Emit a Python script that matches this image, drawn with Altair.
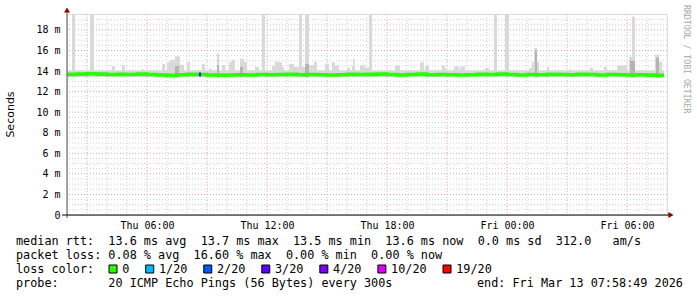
import altair as alt
import pandas as pd

# ---------------- data ----------------
# time = hours since Thu 00:00 (Thu 12 Mar 2026), values in milliseconds

# smoke (ping spread) segments: start, end, top; all start at the floor
smoke_start = [2.05, 2.25, 3.15, 4.25, 4.75, 5.75, 6.75, 7.00, 7.15, 7.40, 7.65, 8.00, 8.35, 8.75,
               9.10, 9.50, 9.75, 10.10, 10.25, 10.65, 10.85, 11.10, 11.40, 11.75, 12.25, 12.40,
               12.60, 12.75, 13.10, 13.35, 13.60, 13.75, 13.90, 14.10, 14.35, 14.90, 15.25, 15.40,
               16.00, 16.25, 16.30, 16.65, 16.90, 17.10, 18.40, 19.40, 19.65, 19.90, 20.75, 20.90,
               21.35, 21.65, 22.90, 23.35, 23.90, 25.10, 25.25, 25.35, 26.00, 27.10, 28.15, 28.85,
               29.00, 29.50, 30.10, 30.25, 31.40, 31.60]
smoke_end = [31.85, 2.40, 3.35, 4.40, 4.90, 5.85, 6.90, 7.15, 7.40, 7.65, 7.85, 8.15, 8.45, 8.90,
             9.25, 9.60, 9.90, 10.25, 10.40, 10.85, 11.00, 11.25, 11.60, 11.90, 12.40, 12.60,
             12.75, 12.85, 13.35, 13.60, 13.75, 13.90, 14.10, 14.35, 14.50, 15.10, 15.40, 15.60,
             16.15, 16.40, 16.38, 16.90, 17.10, 17.25, 18.65, 19.60, 19.85, 20.10, 20.90, 21.00,
             21.60, 21.90, 23.10, 23.50, 24.10, 25.25, 25.60, 25.50, 26.10, 27.25, 28.30, 29.00,
             29.15, 30.00, 30.25, 30.40, 31.60, 31.75]
smoke_top = [14.08, 19.55, 19.55, 14.47, 14.56, 14.17, 14.69, 14.85, 15.10, 15.44, 14.60, 14.90, 14.10, 14.70,
             14.25, 15.70, 14.60, 14.90, 15.10, 15.20, 14.90, 14.10, 14.40, 19.55, 14.50, 14.90,
             14.85, 14.40, 14.70, 14.40, 19.55, 14.40, 19.55, 14.60, 14.90, 14.70, 14.85, 14.55,
             14.30, 14.50, 15.20, 14.55, 14.35, 19.55, 14.55, 14.10, 14.85, 14.50, 14.55, 14.20,
             14.45, 14.45, 14.30, 19.55, 19.55, 14.30, 14.90, 16.25, 14.40, 14.15, 14.30, 14.40,
             14.10, 14.55, 15.40, 19.30, 15.60, 14.90]
smoke_floor = [13.40]

# darker core of the smoke
core_start = [7.40, 9.50, 10.65, 13.90, 25.40, 30.15, 31.45]
core_end = [7.60, 9.60, 10.80, 14.10, 25.50, 30.40, 31.60]
core_top = [14.50, 14.60, 14.40, 14.70, 16.00, 15.00, 15.30]

# median rtt, one value per 30 minutes starting Thu 02:00
median_time = [2.0, 2.5, 3.0, 3.5, 4.0, 4.5, 5.0, 5.5, 6.0, 6.5, 7.0, 7.5, 8.0, 8.5, 9.0, 9.5,
               10.0, 10.5, 11.0, 11.5, 12.0, 12.5, 13.0, 13.5, 14.0, 14.5, 15.0, 15.5, 16.0, 16.5,
               17.0, 17.5, 18.0, 18.5, 19.0, 19.5, 20.0, 20.5, 21.0, 21.5, 22.0, 22.5, 23.0, 23.5,
               24.0, 24.5, 25.0, 25.5, 26.0, 26.5, 27.0, 27.5, 28.0, 28.5, 29.0, 29.5, 30.0, 30.5,
               31.0, 31.5, 31.85]
median_ms = [13.68, 13.70, 13.74, 13.70, 13.66, 13.68, 13.66, 13.70, 13.66, 13.62, 13.58, 13.64,
             13.68, 13.66, 13.62, 13.60, 13.62, 13.64, 13.62, 13.66, 13.64, 13.66, 13.68, 13.64,
             13.66, 13.64, 13.62, 13.64, 13.68, 13.66, 13.68, 13.70, 13.66, 13.62, 13.66, 13.70,
             13.64, 13.66, 13.64, 13.62, 13.64, 13.68, 13.66, 13.70, 13.66, 13.62, 13.66, 13.64,
             13.68, 13.66, 13.64, 13.68, 13.66, 13.62, 13.66, 13.64, 13.62, 13.64, 13.60, 13.58,
             13.58]

# loss events on the median line
loss_event_start = [8.60]
loss_event_end = [8.70]
loss_event_value = [13.66]
loss_event_label = ["3/20"]

loss_labels = ["0", "1/20", "2/20", "3/20", "4/20", "10/20", "19/20"]
loss_colors = ["#26ff00", "#00b8ff", "#0059ff", "#5e00ff", "#7e00ff", "#dd00ff", "#ff0000"]

y_ticks = [0, 2, 4, 6, 8, 10, 12, 14, 16, 18]
x_ticks = [6, 12, 18, 24, 30]
y_minor = [0.5, 1, 1.5, 2.5, 3, 3.5, 4.5, 5, 5.5, 6.5, 7, 7.5, 8.5, 9, 9.5, 10.5, 11, 11.5,
           12.5, 13, 13.5, 14.5, 15, 15.5, 16.5, 17, 17.5, 18.5, 19, 19.5]
x_minor = [4, 5, 7, 8, 10, 11, 13, 14, 16, 17, 19, 20, 22, 23, 25, 26, 28, 29, 31]
x_major = [3, 6, 9, 12, 15, 18, 21, 24, 27, 30]

legend_lines = [
    "median rtt:  13.6 ms avg  13.7 ms max  13.5 ms min  13.6 ms now  0.0 ms sd  312.0   am/s",
    "packet loss: 0.08 % avg  16.60 % max  0.00 % min  0.00 % now",
    "loss color:",
    "probe:       20 ICMP Echo Pings (56 Bytes) every 300s",
]
end_text = "end: Fri Mar 13 07:58:49 2026"
y_title = "Seconds"
credit = "RRDTOOL / TOBI OETIKER"

# ---------------- chart ----------------
W, H = 600, 201
MONO = "DejaVu Sans Mono"
CHAR = 7.11
xs = alt.Scale(domain=[2, 32], nice=False, zero=False)
ys = alt.Scale(domain=[0, 19.55], nice=False, zero=False)

nb = lambda s: s.replace(" ", "\u00a0")

smoke_df = pd.DataFrame({"s": smoke_start, "e": smoke_end, "t": smoke_top,
                         "b": smoke_floor * len(smoke_start)})
core_df = pd.DataFrame({"s": core_start, "e": core_end, "t": core_top,
                        "b": smoke_floor * len(core_start)})
med_df = pd.DataFrame({"t": median_time, "v": median_ms})
lcol = dict(zip(loss_labels, loss_colors))
ev_df = pd.DataFrame({"s": loss_event_start, "e": loss_event_end,
                      "lo": [v - 0.19 for v in loss_event_value],
                      "hi": [v + 0.19 for v in loss_event_value],
                      "c": [lcol[l] for l in loss_event_label]})

MINOR = "#cfcfcf"
MAJOR = "#eba3a3"
ygrid_minor = alt.Chart(pd.DataFrame({"v": y_minor})).mark_rule(
    color=MINOR, strokeDash=[1, 2], strokeWidth=1).encode(
    y=alt.Y("v:Q", scale=ys, axis=None))
xgrid_minor = alt.Chart(pd.DataFrame({"v": x_minor})).mark_rule(
    color=MINOR, strokeDash=[1, 2], strokeWidth=1).encode(
    x=alt.X("v:Q", scale=xs, axis=None))
ygrid_major = alt.Chart(pd.DataFrame({"v": y_ticks[1:]})).mark_rule(
    color=MAJOR, strokeDash=[1, 2], strokeWidth=1).encode(
    y=alt.Y("v:Q", scale=ys, axis=alt.Axis(
        values=y_ticks, labelExpr="datum.value == 0 ? '0' : datum.value + ' m'",
        labelFont=MONO, labelFontSize=10, labelColor="#000000", ticks=False,
        domain=False, grid=False, labelPadding=7, title=None)))
xgrid_major = alt.Chart(pd.DataFrame({"v": x_major})).mark_rule(
    color=MAJOR, strokeDash=[1, 2], strokeWidth=1).encode(
    x=alt.X("v:Q", scale=xs, axis=alt.Axis(
        values=x_ticks,
        labelExpr="(datum.value < 24 ? 'Thu ' : 'Fri ') + (datum.value % 24 < 10 ? '0' : '') + (datum.value % 24) + ':00'",
        labelFont=MONO, labelFontSize=10, labelColor="#000000", ticks=False,
        domain=False, grid=False, labelPadding=5, title=None)))

smoke = alt.Chart(smoke_df).mark_rect(color="#d9d9d9", strokeWidth=0).encode(
    x=alt.X("s:Q", scale=xs, axis=None), x2="e:Q",
    y=alt.Y("b:Q", scale=ys, axis=None), y2="t:Q")
core = alt.Chart(core_df).mark_rect(color="#b4b4b4", strokeWidth=0).encode(
    x=alt.X("s:Q", scale=xs, axis=None), x2="e:Q",
    y=alt.Y("b:Q", scale=ys, axis=None), y2="t:Q")
median = alt.Chart(med_df).mark_line(color=loss_colors[0], strokeWidth=3.6,
                                     interpolate="step-after").encode(
    x=alt.X("t:Q", scale=xs, axis=None), y=alt.Y("v:Q", scale=ys, axis=None))
events = alt.Chart(ev_df).mark_rect(strokeWidth=0).encode(
    x=alt.X("s:Q", scale=xs, axis=None), x2="e:Q",
    y=alt.Y("lo:Q", scale=ys, axis=None), y2="hi:Q",
    color=alt.Color("c:N", scale=None, legend=None))

one = pd.DataFrame({"a": [0]})
yaxis_line = alt.Chart(one).mark_rule(color="#555555", strokeWidth=1).encode(
    x=alt.value(0), y=alt.value(-2), y2=alt.value(H + 3))
xaxis_line = alt.Chart(one).mark_rule(color="#000000", strokeWidth=1).encode(
    x=alt.value(-5), x2=alt.value(W + 3), y=alt.value(H))
up_arrow = alt.Chart(one).mark_point(shape="triangle-up", filled=True, size=36,
                                     color="#8b0000", opacity=1).encode(
    x=alt.value(0), y=alt.value(-4))
right_arrow = alt.Chart(one).mark_point(shape="triangle-right", filled=True, size=36,
                                        color="#8b0000", opacity=1).encode(
    x=alt.value(W + 4), y=alt.value(H))

title_txt = alt.Chart(pd.DataFrame({"t": [y_title]})).mark_text(
    angle=270, font="DejaVu Sans", fontSize=11, color="#000000",
    align="center", baseline="middle").encode(
    x=alt.value(-56), y=alt.value(H / 2), text="t:N")
credit_txt = alt.Chart(pd.DataFrame({"t": [credit]})).mark_text(
    angle=90, font=MONO, fontSize=8.2, color="#a8a8a8",
    align="left", baseline="middle").encode(
    x=alt.value(619), y=alt.value(-9), text="t:N")

leg_df = pd.DataFrame({"t": [nb(s) for s in legend_lines] + [nb(end_text)],
                       "px": [-51] * len(legend_lines) + [410],
                       "py": [227 + 14 * i for i in range(len(legend_lines))] + [269]})
leg_txt = alt.Chart(leg_df).mark_text(font=MONO, fontSize=11.8, color="#000000",
                                      align="left", baseline="middle").encode(
    x=alt.X("px:Q", scale=None, axis=None), y=alt.Y("py:Q", scale=None, axis=None),
    text="t:N")

box_x = []
cur = 108.5 - 67
for lab in loss_labels:
    box_x.append(cur)
    cur += len(lab) * CHAR + 29.6
box_df = pd.DataFrame({"lab": loss_labels, "c": loss_colors,
                       "bx": [b + 4.5 for b in box_x],
                       "lx": [b + 2 * CHAR - 0.5 for b in box_x],
                       "py": [255] * len(loss_labels)})
boxes = alt.Chart(box_df).mark_square(size=64, opacity=1, stroke="#000000",
                                      strokeWidth=1).encode(
    x=alt.X("bx:Q", scale=None, axis=None), y=alt.Y("py:Q", scale=None, axis=None),
    fill=alt.Fill("c:N", scale=None, legend=None))
box_lab = alt.Chart(box_df).mark_text(font=MONO, fontSize=11.8, color="#000000",
                                      align="left", baseline="middle").encode(
    x=alt.X("lx:Q", scale=None, axis=None), y=alt.Y("py:Q", scale=None, axis=None),
    text="lab:N")

chart = alt.layer(
    ygrid_minor, xgrid_minor, ygrid_major, xgrid_major,
    smoke, core, median, events,
    yaxis_line, xaxis_line, up_arrow, right_arrow,
    title_txt, credit_txt, leg_txt, boxes, box_lab,
).resolve_axis(x="independent", y="independent").properties(
    width=W, height=H,
    autosize=alt.AutoSizeParams(type="none"),
    padding={"left": 67, "top": 14, "right": 30, "bottom": 82},
).configure_view(stroke=None).configure(background="#ffffff")

chart.save("out.html", embed_options={"renderer": "svg", "actions": False})
